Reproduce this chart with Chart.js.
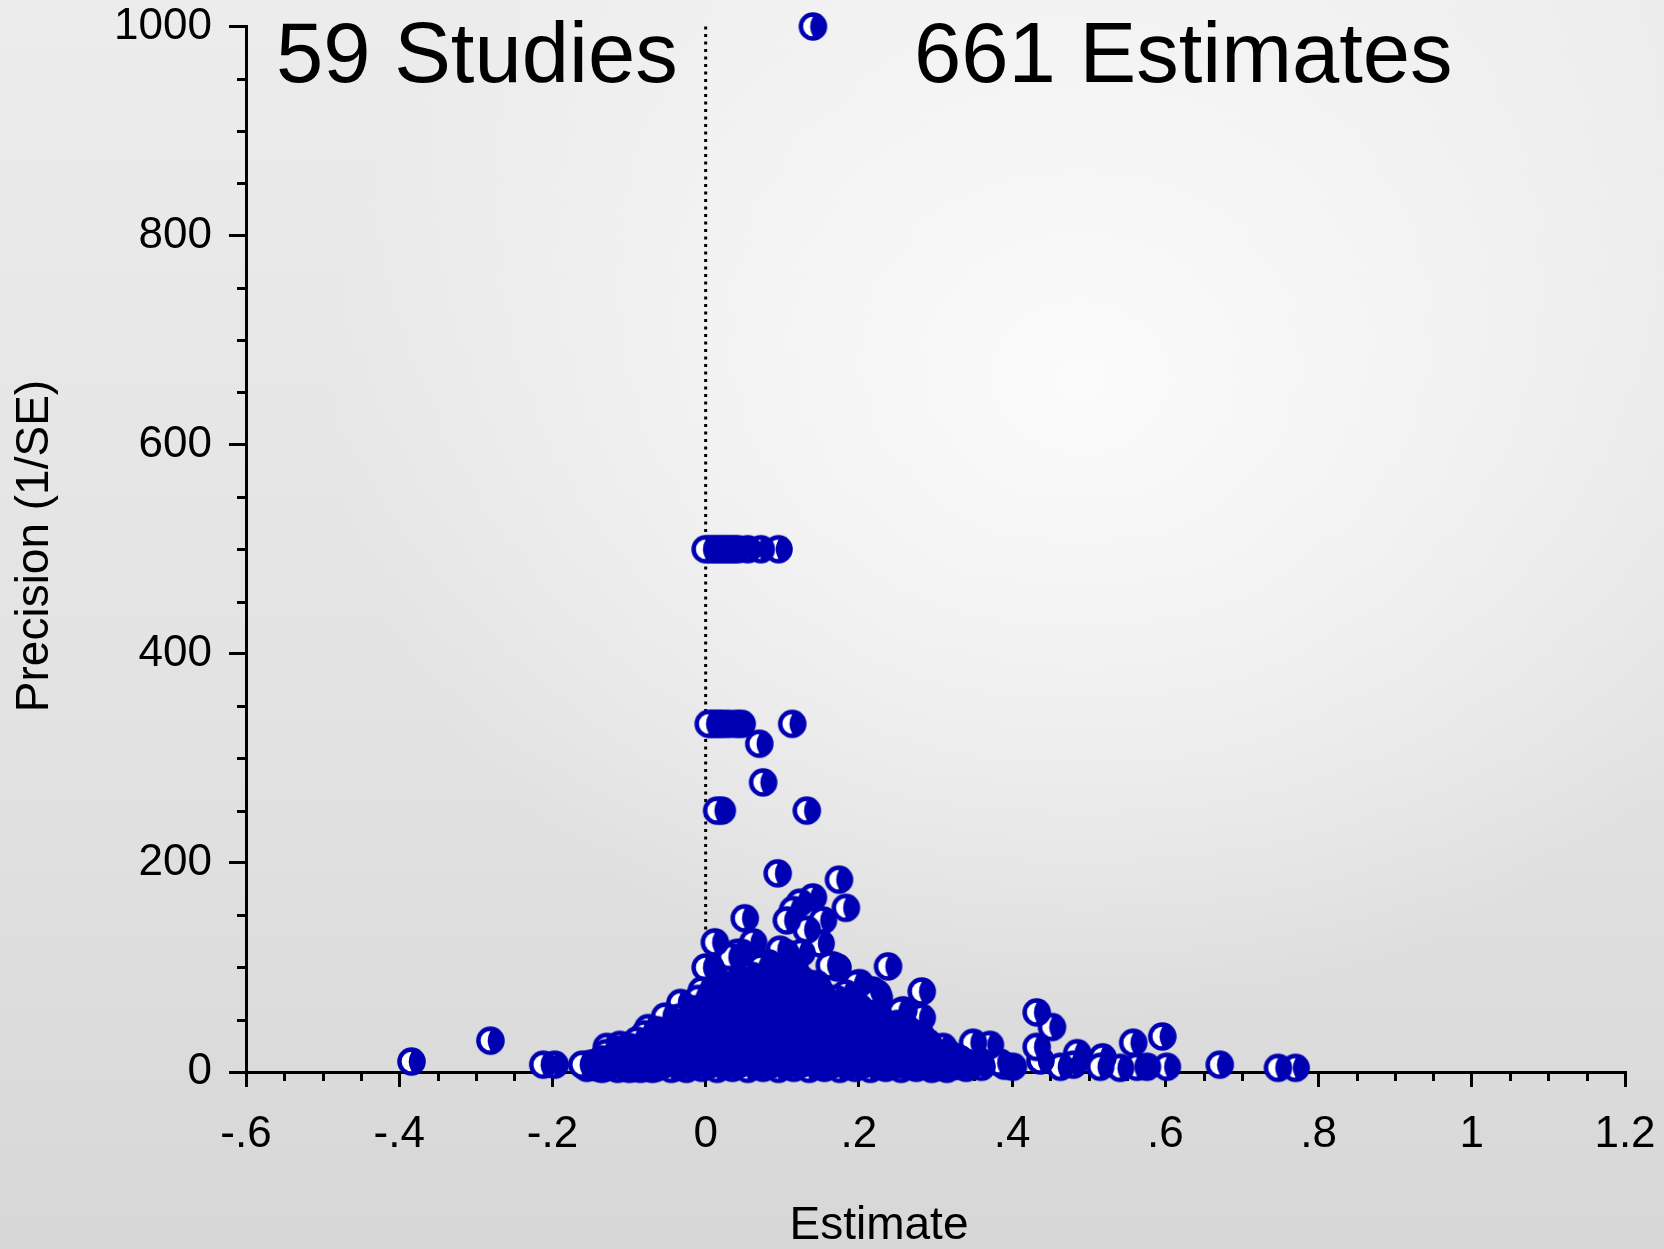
<!DOCTYPE html>
<html>
<head>
<meta charset="utf-8">
<script src="https://cdn.jsdelivr.net/npm/chart.js@4.4.1/dist/chart.umd.min.js"></script>
<style>
html,body{margin:0;padding:0;width:1664px;height:1249px;overflow:hidden;}
body{
  background:
    radial-gradient(ellipse 760px 640px at 1080px 380px, rgba(251,251,251,1) 0%, rgba(251,251,251,0.6) 45%, rgba(251,251,251,0) 100%),
    linear-gradient(to bottom, #ececec 0%, #e2e2e2 60%, #d7d7d7 100%);
}
#wrap{position:relative;width:1664px;height:1249px;}
</style>
</head>
<body>
<div id="wrap"><canvas id="c"></canvas></div>
<script>
// ---------- data ----------
const xTickValues = [-0.6, -0.4, -0.2, 0, 0.2, 0.4, 0.6, 0.8, 1, 1.2];
const xTickLabels = ['-.6', '-.4', '-.2', '0', '.2', '.4', '.6', '.8', '1', '1.2'];
const yTickValues = [0, 200, 400, 600, 800, 1000];
const yTickLabels = ['0', '200', '400', '600', '800', '1000'];
const headerLeft = '59 Studies';
const headerRight = '661 Estimates';
const xTitle = 'Estimate';
const yTitle = 'Precision (1/SE)';

// individually visible estimates
const scatterEstimate = [
  0.14, 0.000, 0.006, 0.012, 0.018, 0.024, 0.030, 0.036, 0.042, 0.055, 0.072, 0.095,
  0.004, 0.010, 0.016, 0.022, 0.030, 0.040, 0.047, 0.113, 0.070, 0.075, 0.015, 0.021, 0.132,
  0.094, 0.174, 0.183, 0.051, 0.140, 0.123, 0.114, 0.106, 0.153, 0.132, 0.012, 0.062, 0.150, 0.041, 0.097,
  0.119, 0.075, 0.166, 0.238, 0.000, 0.201, 0.224, 0.282, 0.258, 0.282, 0.049, 0.015, -0.005, -0.033, -0.053,
  -0.075, -0.064, -0.047, -0.112, -0.129, -0.161, -0.197, -0.212, -0.281, -0.384,
  0.104, 0.125, 0.115, 0.162, 0.082, 0.072, 0.033, 0.047, 0.006, 0.197, 0.218, 0.226, 0.183, 0.172, 0.255,
  0.432, 0.452, 0.432, 0.596, 0.558, 0.671, 0.747, 0.770, 0.349, 0.371, 0.310, 0.485, 0.518,
  0.602, 0.563, 0.576, 0.541, 0.515, 0.480, 0.463, 0.437, 0.401, 0.384, 0.358, 0.332
];
const scatterPrecision = [
  1000, 500, 500, 500, 500, 500, 500, 500, 500, 500, 500, 500,
  333, 333, 333, 333, 333, 333, 333, 333, 314, 277, 250, 250, 250,
  190, 184, 157, 147, 167, 162, 155, 145, 145, 136, 124, 124, 123, 114, 117,
  93, 104, 102, 101, 100, 85, 75, 77, 59, 52, 88, 88, 78, 66, 53,
  42, 40, 50, 26, 24, 7, 7, 7, 30, 10,
  114, 114, 104, 102, 104, 100, 110, 114, 100, 84, 78, 71, 75, 100, 58,
  57, 43, 24, 34, 28, 7, 4, 4, 28, 26, 24, 18, 14,
  5, 5, 5, 4, 5, 7, 5, 11, 5, 9, 10, 12
];

// dense cluster near the bottom, read column by column
const blobEstimate = [
  -0.155, -0.145, -0.135, -0.125, -0.115, -0.105, -0.095, -0.085, -0.075, -0.065,
  -0.055, -0.045, -0.035, -0.025, -0.015, -0.005, 0.005, 0.015, 0.025, 0.035,
  0.045, 0.055, 0.065, 0.075, 0.085, 0.095, 0.105, 0.115, 0.125, 0.135,
  0.145, 0.155, 0.165, 0.175, 0.185, 0.195, 0.205, 0.215, 0.225, 0.235,
  0.245, 0.255, 0.265, 0.275, 0.285, 0.295, 0.305, 0.315, 0.325, 0.34, 0.36
];
const blobPrecision = [
  [4], [6], [3, 12], [5, 16], [3, 10], [6, 18], [4, 12, 22], [3, 16, 28], [6, 20], [4, 12, 28],
  [7, 22, 38], [3, 15, 30], [5, 20, 42, 52], [3, 12, 32], [6, 24, 45, 60], [4, 15, 35, 55], [7, 26, 46, 68], [3, 16, 38, 58, 72], [6, 24, 48, 66], [4, 14, 34, 56, 78],
  [8, 26, 44, 64, 82], [3, 18, 38, 58, 76, 92], [6, 28, 48, 68, 86], [4, 16, 36, 56, 74, 90], [7, 26, 46, 66, 84, 98], [3, 18, 38, 58, 76, 94], [6, 28, 48, 68, 86], [4, 16, 36, 56, 74, 90], [8, 26, 46, 64, 80], [3, 18, 38, 58, 76],
  [6, 28, 48, 66, 84], [4, 16, 36, 54, 70], [7, 26, 44, 62], [3, 18, 36, 54], [6, 26, 44, 60], [4, 16, 34, 50], [7, 24, 42, 58], [3, 16, 32, 46], [6, 22, 38, 54], [4, 14, 30],
  [7, 20, 36, 44], [3, 12, 26], [6, 18, 34, 40], [4, 12, 24], [7, 18, 30], [3, 10, 20], [5, 14], [3, 9, 18], [6, 12], [4, 9], [5]
];
const blobEstimate2 = [
  -0.15, -0.14, -0.13, -0.12, -0.11, -0.10, -0.09, -0.08, -0.07, -0.06,
  -0.05, -0.04, -0.03, -0.02, -0.01, 0.00, 0.01, 0.02, 0.03, 0.04,
  0.05, 0.06, 0.07, 0.08, 0.09, 0.10, 0.11, 0.12, 0.13, 0.14,
  0.15, 0.16, 0.17, 0.18, 0.19, 0.20, 0.21, 0.22, 0.23, 0.24,
  0.25, 0.26, 0.27, 0.28, 0.29, 0.30, 0.31, 0.32, 0.33, 0.35, 0.39
];
const blobPrecision2 = [
  [8], [4, 10], [7, 18], [10, 22], [6, 17], [3, 12, 24], [8, 17, 30], [10, 24, 36], [3, 14, 26], [8, 20, 36],
  [12, 28, 44], [9, 24, 38], [10, 30, 48], [8, 22, 40, 56], [12, 30, 50, 70], [9, 25, 42, 62], [12, 34, 56, 76], [9, 28, 48, 66], [12, 34, 56, 74, 88], [9, 30, 48, 68, 86],
  [14, 34, 54, 72], [10, 30, 50, 72, 92], [11, 26, 46, 66, 82], [14, 36, 56, 76, 94], [10, 30, 48, 70, 88], [13, 36, 56, 78, 98], [9, 26, 46, 64, 82], [16, 36, 56, 74, 92], [11, 30, 50, 68, 86], [9, 26, 46, 64, 80],
  [14, 36, 56, 76], [10, 28, 46, 64], [13, 34, 52, 70], [9, 24, 44, 62], [14, 34, 52, 66], [10, 28, 46, 62], [9, 26, 40, 54], [12, 28, 44, 60], [8, 20, 36, 48], [12, 28, 40],
  [7, 20, 32, 46], [10, 26, 42], [7, 18, 32], [11, 24, 36], [6, 15, 28], [9, 19], [6, 13], [9, 16], [6, 13], [8], [6]
];

// ---------- build ----------
const FONT = '"Liberation Sans", Arial, Helvetica, sans-serif';
const BLUE = '#0000b3';

const points = [];
blobEstimate.forEach((x, i) => blobPrecision[i].forEach(y => points.push({x: x, y: y})));
blobEstimate2.forEach((x, i) => blobPrecision2[i].forEach(y => points.push({x: x, y: y})));
scatterEstimate.forEach((x, i) => points.push({x: x, y: scatterPrecision[i]}));
// draw right-most first so markers to the left sit on top
points.sort((a, b) => b.x - a.x);

function makeMarker() {
  const s = 31, c = document.createElement('canvas');
  c.width = s; c.height = s;
  const g = c.getContext('2d');
  const cx = 15.5, cy = 15.5, ri = 9.8;
  g.fillStyle = BLUE;
  g.beginPath(); g.arc(cx, cy, 14.3, 0, Math.PI * 2); g.fill();
  g.fillStyle = '#ffffff';
  g.beginPath();
  g.moveTo(cx, cy - ri);
  g.arc(cx, cy, ri, -Math.PI / 2, Math.PI / 2, true);
  g.quadraticCurveTo(cx - 5.5, cy, cx, cy - ri);
  g.closePath();
  g.fill();
  return c;
}
const marker = makeMarker();

const extras = {
  id: 'extras',
  beforeDatasetsDraw(chart) {
    const ctx = chart.ctx, xs = chart.scales.x, ys = chart.scales.y;
    ctx.save();
    ctx.strokeStyle = '#000';
    ctx.lineWidth = 3;
    for (let i = 0; i <= 36; i++) {
      if (i % 4 === 0) continue;
      const px = Math.round(xs.getPixelForValue(-0.6 + i * 0.05)) + 0.5;
      ctx.beginPath(); ctx.moveTo(px, ys.bottom); ctx.lineTo(px, ys.bottom + 9); ctx.stroke();
    }
    for (let i = 0; i <= 20; i++) {
      if (i % 4 === 0) continue;
      const py = Math.round(ys.getPixelForValue(i * 50)) + 0.5;
      ctx.beginPath(); ctx.moveTo(xs.left, py); ctx.lineTo(xs.left - 9, py); ctx.stroke();
    }
    ctx.restore();
  },
  afterDraw(chart) {
    const ctx = chart.ctx;
    ctx.save();
    ctx.fillStyle = '#000';
    ctx.textBaseline = 'alphabetic';
    ctx.textAlign = 'left';
    ctx.font = '85px ' + FONT;
    ctx.fillText(headerLeft, 276, 82);
    ctx.fillText(headerRight, 914, 82);
    ctx.font = '46px ' + FONT;
    ctx.textAlign = 'center';
    ctx.textBaseline = 'middle';
    ctx.fillText(xTitle, 879, 1226);
    ctx.translate(35, 546);
    ctx.rotate(-Math.PI / 2);
    ctx.fillText(yTitle, 0, 0);
    ctx.restore();
  }
};

new Chart(document.getElementById('c'), {
  data: {
    datasets: [
      {
        type: 'scatter',
        data: points,
        pointStyle: marker,
        pointRadius: 14,
        clip: false,
        order: 1
      },
      {
        type: 'line',
        data: [{x: 0, y: 0}, {x: 0, y: 1000}],
        borderColor: '#000',
        borderWidth: 3,
        borderDash: [3, 4.5],
        pointRadius: 0,
        fill: false,
        clip: false,
        order: 2
      }
    ]
  },
  options: {
    responsive: true,
    maintainAspectRatio: false,
    animation: false,
    events: [],
    layout: {padding: {left: 0, right: 39, top: 26.5, bottom: 0}},
    plugins: {legend: {display: false}, tooltip: {enabled: false}, title: {display: false}},
    scales: {
      x: {
        type: 'linear', min: -0.6, max: 1.2,
        afterBuildTicks: s => { s.ticks = xTickValues.map(v => ({value: v})); },
        afterFit: s => { s.height = 177; s.paddingLeft = 0; s.paddingRight = 0; },
        ticks: {
          callback: (v, i) => xTickLabels[i],
          font: {family: FONT, size: 44},
          color: '#000', padding: 21, maxRotation: 0, autoSkip: false
        },
        grid: {display: true, drawOnChartArea: false, drawTicks: true, tickLength: 15, tickWidth: 3, tickColor: '#000', color: '#000', lineWidth: 3},
        border: {display: true, color: '#000', width: 3}
      },
      y: {
        type: 'linear', min: 0, max: 1000,
        afterBuildTicks: s => { s.ticks = yTickValues.map(v => ({value: v})); },
        afterFit: s => { s.width = 246; s.paddingTop = 0; s.paddingBottom = 0; },
        ticks: {
          callback: (v, i) => yTickLabels[i],
          font: {family: FONT, size: 44},
          color: '#000', padding: 17, autoSkip: false
        },
        grid: {display: true, drawOnChartArea: false, drawTicks: true, tickLength: 17, tickWidth: 3, tickColor: '#000', color: '#000', lineWidth: 3},
        border: {display: true, color: '#000', width: 3}
      }
    }
  },
  plugins: [extras]
});
</script>
</body>
</html>
